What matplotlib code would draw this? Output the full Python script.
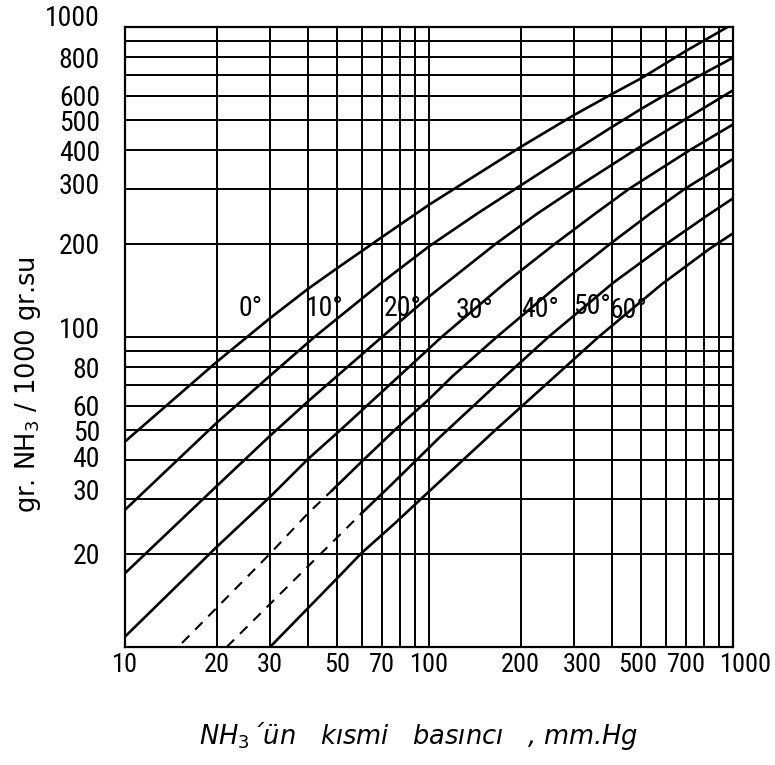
import matplotlib
matplotlib.use('Agg')
import matplotlib.pyplot as plt
import matplotlib.font_manager as fm
import matplotlib.transforms as mtransforms

# NH3 çözünürlüğü: kısmi basınç (mm Hg) -> gr NH3 / 1000 gr su
p_0 = [10, 20, 30, 40, 50, 70, 100, 200, 300, 400, 500, 700, 960]
c_0 = [46, 83, 115, 143, 167, 210, 267, 410, 520, 608, 684, 837, 1000]

p_10 = [10, 20, 30, 42, 70, 100, 144, 200, 300, 400, 500, 600, 700, 800, 1000]
c_10 = [27.7, 52.8, 75, 100, 150, 196, 250, 308, 398, 476, 545, 605, 658, 708, 796]

p_20 = [10, 20, 30, 40, 70, 100, 166, 227, 300, 470, 720, 1000]
c_20 = [17.3, 33, 48, 62, 100, 135, 200, 250, 300, 398, 514, 625]

p_30 = [10, 20, 30, 40, 51, 80, 110, 179, 260, 352, 454, 719, 1000]
c_30 = [10.8, 21, 30.5, 40.4, 50, 75, 100, 150, 200, 250, 300, 400, 485]

p_40_dash = [15.4, 30, 40, 48]
c_40_dash = [10.3, 20, 27, 32]
p_40 = [48, 60, 77, 100, 120, 167, 273, 395, 534, 692, 1000]
c_40 = [32, 39.6, 50, 63, 75, 100, 150, 200, 250, 300, 375]

p_50_dash = [21.6, 60]
c_50_dash = [10, 27]
p_50 = [60, 75, 108, 179, 247, 405, 596, 825, 1000]
c_50 = [27, 33.3, 47.3, 75, 100, 150, 198, 247, 280]

p_60 = [30, 50, 60, 77, 94, 129, 165, 261, 361, 583, 834, 1000]
c_60 = [10, 16.7, 20.1, 25, 30, 40, 50, 75, 100, 148, 192, 216]

# eğri etiketleri (konum: basınç, derişim)
temp_labels = ['0°', '10°', '20°', '30°', '40°', '50°', '60°']
label_p = [25.8, 45.5, 82, 141, 232, 344, 452]
label_c = [124, 124, 124, 122, 123, 125, 122]

x_ticks = [10, 20, 30, 50, 70, 100, 200, 300, 500, 700, 1000]
y_ticks = [20, 30, 40, 50, 60, 80, 100, 200, 300, 400, 500, 600, 800, 1000]
grid_vals = [20, 30, 40, 50, 60, 70, 80, 90, 100,
             200, 300, 400, 500, 600, 700, 800, 900]


def _pick_font():
    """Dar (condensed) bir yazı tipi varsa onu kullan, yoksa DejaVu Sans."""
    names = {f.name for f in fm.fontManager.ttflist}
    for name in ['Roboto Condensed', 'Liberation Sans Narrow', 'DejaVu Sans Condensed']:
        if name in names:
            return [name, 'DejaVu Sans'], True
    return ['DejaVu Sans'], False


FONT, NARROW = _pick_font()
plt.rcParams['font.family'] = FONT
num_size = 20 if NARROW else 16

fig = plt.figure(figsize=(7.75, 7.65), dpi=100)
ax = fig.add_axes([125 / 775, 1 - 647 / 765, 608 / 775, 620 / 765])
ax.set_xscale('log')
ax.set_yscale('log')
ax.set_xlim(10, 1000)
ax.set_ylim(10, 1000)

# el çizimi ızgara
for v in grid_vals:
    ax.axvline(v, color='black', lw=1.4, zorder=1)
    ax.axhline(v, color='black', lw=1.4, zorder=1)

kw = dict(color='black', lw=1.9, zorder=2)
ax.plot(p_0, c_0, **kw)
ax.plot(p_10, c_10, **kw)
ax.plot(p_20, c_20, **kw)
ax.plot(p_30, c_30, **kw)
ax.plot(p_40, c_40, **kw)
ax.plot(p_50, c_50, **kw)
ax.plot(p_60, c_60, **kw)
ax.plot(p_40_dash, c_40_dash, color='black', lw=1.5, ls=(0, (5, 4)), zorder=2)
ax.plot(p_50_dash, c_50_dash, color='black', lw=1.5, ls=(0, (5, 4)), zorder=2)

for t, px, cy in zip(temp_labels, label_p, label_c):
    ax.text(px, cy, t, fontsize=num_size, ha='center', va='center', zorder=3)

ax.set_xticks(x_ticks)
ax.set_xticklabels([str(v) for v in x_ticks])
ax.set_yticks(y_ticks)
ax.set_yticklabels([str(v) for v in y_ticks])
ax.minorticks_off()
ax.tick_params(axis='x', length=0, pad=4, labelsize=num_size - 1)
ax.tick_params(axis='y', length=0, pad=18, labelsize=num_size)

# elle yazılmış etiketlerin orijinaldeki küçük kaymaları (piksel)
x_shift = {'300': 8, '500': -4, '1000': 13}
y_shift = {'1000': 12, '300': 6, '100': 10, '40': 4, '30': 10}
for lab in ax.get_xticklabels():
    d = x_shift.get(lab.get_text(), 0)
    if d:
        off = mtransforms.ScaledTranslation(d / 100, 0, fig.dpi_scale_trans)
        lab.set_transform(lab.get_transform() + off)
for lab in ax.get_yticklabels():
    d = y_shift.get(lab.get_text(), 0)
    if d:
        off = mtransforms.ScaledTranslation(0, d / 100, fig.dpi_scale_trans)
        lab.set_transform(lab.get_transform() + off)

for s in ax.spines.values():
    s.set_linewidth(1.6)

fig.text(28 / 775, 1 - 385 / 765, 'gr. NH$_3$ / 1000 gr.su', rotation=90,
         fontsize=18.5, family='DejaVu Sans', ha='center', va='center')
fig.text(418 / 775, 1 - 736 / 765, 'NH$_3$´ün   kısmi   basıncı   , mm.Hg',
         fontsize=18.5, family='DejaVu Sans', style='italic',
         ha='center', va='center')

fig.savefig('out.png', dpi=100, facecolor='white')
